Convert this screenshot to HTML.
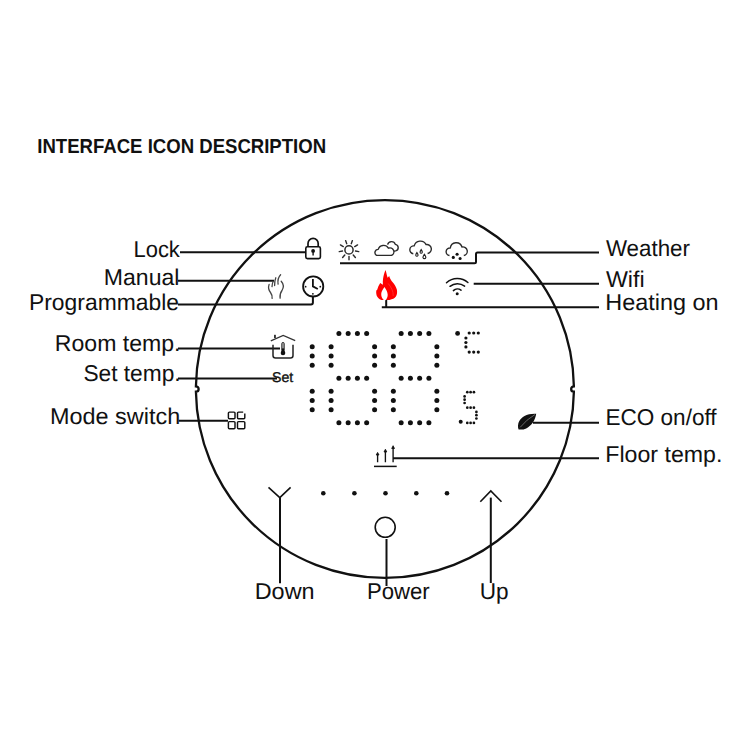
<!DOCTYPE html>
<html><head><meta charset="utf-8"><style>
html,body{margin:0;padding:0;background:#fff;width:750px;height:750px;overflow:hidden}
svg{display:block}
text{font-family:"Liberation Sans",sans-serif;fill:#111;text-rendering:geometricPrecision}
</style></head><body>
<svg width="750" height="750" viewBox="0 0 750 750">
<rect width="750" height="750" fill="#fff"/>
<g id="labels">
<text x="37.3" y="153.4" font-size="20.2" font-weight="bold" textLength="288.8" lengthAdjust="spacingAndGlyphs">INTERFACE ICON DESCRIPTION</text>
<text x="133.5" y="256.5" font-size="22.8" font-weight="normal" textLength="46.3" lengthAdjust="spacingAndGlyphs">Lock</text>
<text x="103.8" y="284.8" font-size="22.8" font-weight="normal" textLength="75.6" lengthAdjust="spacingAndGlyphs">Manual</text>
<text x="29.0" y="310" font-size="22.8" font-weight="normal" textLength="150.0" lengthAdjust="spacingAndGlyphs">Programmable</text>
<text x="54.8" y="351" font-size="22.8" font-weight="normal" textLength="125.7" lengthAdjust="spacingAndGlyphs">Room temp.</text>
<text x="83.4" y="381.3" font-size="22.8" font-weight="normal" textLength="97.2" lengthAdjust="spacingAndGlyphs">Set temp.</text>
<text x="50.0" y="423.8" font-size="22.8" font-weight="normal" textLength="130.2" lengthAdjust="spacingAndGlyphs">Mode switch</text>
<text x="605.9" y="256.1" font-size="22.8" font-weight="normal" textLength="84.1" lengthAdjust="spacingAndGlyphs">Weather</text>
<text x="605.9" y="287" font-size="22.8" font-weight="normal" textLength="38.7" lengthAdjust="spacingAndGlyphs">Wifi</text>
<text x="605.3" y="310.4" font-size="22.8" font-weight="normal" textLength="113.3" lengthAdjust="spacingAndGlyphs">Heating on</text>
<text x="605.4" y="424.6" font-size="22.8" font-weight="normal" textLength="111.2" lengthAdjust="spacingAndGlyphs">ECO on/off</text>
<text x="605.3" y="462.4" font-size="22.8" font-weight="normal" textLength="117.1" lengthAdjust="spacingAndGlyphs">Floor temp.</text>
<text x="254.7" y="598.6" font-size="22.8" font-weight="normal" textLength="59.9" lengthAdjust="spacingAndGlyphs">Down</text>
<text x="366.9" y="598.6" font-size="22.8" font-weight="normal" textLength="62.8" lengthAdjust="spacingAndGlyphs">Power</text>
<text x="479.8" y="598.8" font-size="22.8" font-weight="normal" textLength="28.9" lengthAdjust="spacingAndGlyphs">Up</text>
</g>
<g id="circle" fill="none" stroke="#111" stroke-width="2.3">
<path d="M 195.92 386.3 A 189 189 0 0 1 573.88 386.3 A 2.7 2.7 0 0 0 573.88 391.7 A 189 189 0 0 1 195.92 391.7 A 2.7 2.7 0 0 0 195.92 386.3 Z"/>
</g>
<g id="lines" fill="none" stroke="#111" stroke-width="2">
<path d="M180 252.3 H305"/>
<path d="M178 280.8 H274"/>
<path d="M178 304.6 H311 Q312.9 304.6 312.9 302.6 V297"/>
<path d="M178 348.5 H280"/>
<path d="M178 378.5 H277"/>
<path d="M178.7 420.8 H228"/>
<path d="M340 263.3 H474.5 Q476 263.3 476 261.8 V254.1 Q476 252.6 477.5 252.6 H599"/>
<path d="M473.7 283.8 H599"/>
<path d="M381.8 307.3 H599 M386.2 300 V307.3"/>
<path d="M533 422.7 H599"/>
<path d="M393 458.2 H599"/>
<path d="M280 497.6 V583.3"/>
<path d="M386.5 539 V586"/>
<path d="M490.8 497.6 V583"/>
</g>
<g id="dots" fill="#111">
<circle cx="312.20" cy="346.80" r="2.5"/>
<circle cx="312.20" cy="356.00" r="2.5"/>
<circle cx="312.20" cy="365.20" r="2.5"/>
<circle cx="312.20" cy="391.30" r="2.5"/>
<circle cx="312.20" cy="400.50" r="2.5"/>
<circle cx="312.20" cy="409.80" r="2.5"/>
<circle cx="331.10" cy="346.80" r="2.5"/>
<circle cx="374.60" cy="346.80" r="2.5"/>
<circle cx="331.10" cy="356.00" r="2.5"/>
<circle cx="374.60" cy="356.00" r="2.5"/>
<circle cx="331.10" cy="365.20" r="2.5"/>
<circle cx="374.60" cy="365.20" r="2.5"/>
<circle cx="331.10" cy="391.30" r="2.5"/>
<circle cx="374.60" cy="391.30" r="2.5"/>
<circle cx="331.10" cy="400.50" r="2.5"/>
<circle cx="374.60" cy="400.50" r="2.5"/>
<circle cx="331.10" cy="409.80" r="2.5"/>
<circle cx="374.60" cy="409.80" r="2.5"/>
<circle cx="338.90" cy="333.50" r="2.5"/>
<circle cx="348.15" cy="333.50" r="2.5"/>
<circle cx="357.40" cy="333.50" r="2.5"/>
<circle cx="366.65" cy="333.50" r="2.5"/>
<circle cx="338.90" cy="378.20" r="2.5"/>
<circle cx="348.15" cy="378.20" r="2.5"/>
<circle cx="357.40" cy="378.20" r="2.5"/>
<circle cx="366.65" cy="378.20" r="2.5"/>
<circle cx="338.90" cy="422.80" r="2.5"/>
<circle cx="348.15" cy="422.80" r="2.5"/>
<circle cx="357.40" cy="422.80" r="2.5"/>
<circle cx="366.65" cy="422.80" r="2.5"/>
<circle cx="393.35" cy="346.80" r="2.5"/>
<circle cx="436.85" cy="346.80" r="2.5"/>
<circle cx="393.35" cy="356.00" r="2.5"/>
<circle cx="436.85" cy="356.00" r="2.5"/>
<circle cx="393.35" cy="365.20" r="2.5"/>
<circle cx="436.85" cy="365.20" r="2.5"/>
<circle cx="393.35" cy="391.30" r="2.5"/>
<circle cx="436.85" cy="391.30" r="2.5"/>
<circle cx="393.35" cy="400.50" r="2.5"/>
<circle cx="436.85" cy="400.50" r="2.5"/>
<circle cx="393.35" cy="409.80" r="2.5"/>
<circle cx="436.85" cy="409.80" r="2.5"/>
<circle cx="401.15" cy="333.50" r="2.5"/>
<circle cx="410.40" cy="333.50" r="2.5"/>
<circle cx="419.65" cy="333.50" r="2.5"/>
<circle cx="428.90" cy="333.50" r="2.5"/>
<circle cx="401.15" cy="378.20" r="2.5"/>
<circle cx="410.40" cy="378.20" r="2.5"/>
<circle cx="419.65" cy="378.20" r="2.5"/>
<circle cx="428.90" cy="378.20" r="2.5"/>
<circle cx="401.15" cy="422.80" r="2.5"/>
<circle cx="410.40" cy="422.80" r="2.5"/>
<circle cx="419.65" cy="422.80" r="2.5"/>
<circle cx="428.90" cy="422.80" r="2.5"/>
<circle cx="457.60" cy="333.40" r="2.4"/>
<circle cx="469.20" cy="333.00" r="1.6"/>
<circle cx="469.20" cy="352.10" r="1.6"/>
<circle cx="473.70" cy="333.00" r="1.6"/>
<circle cx="473.70" cy="352.10" r="1.6"/>
<circle cx="478.30" cy="333.00" r="1.6"/>
<circle cx="478.30" cy="352.10" r="1.6"/>
<circle cx="465.90" cy="338.00" r="1.6"/>
<circle cx="465.90" cy="342.50" r="1.6"/>
<circle cx="465.90" cy="346.90" r="1.6"/>
<circle cx="467.30" cy="392.20" r="1.35"/>
<circle cx="467.30" cy="407.70" r="1.35"/>
<circle cx="467.30" cy="422.90" r="1.35"/>
<circle cx="470.60" cy="392.20" r="1.35"/>
<circle cx="470.60" cy="407.70" r="1.35"/>
<circle cx="470.60" cy="422.90" r="1.35"/>
<circle cx="473.90" cy="392.20" r="1.35"/>
<circle cx="473.90" cy="407.70" r="1.35"/>
<circle cx="473.90" cy="422.90" r="1.35"/>
<circle cx="464.60" cy="396.40" r="1.35"/>
<circle cx="464.60" cy="399.70" r="1.35"/>
<circle cx="464.60" cy="403.00" r="1.35"/>
<circle cx="476.40" cy="411.90" r="1.35"/>
<circle cx="476.40" cy="415.20" r="1.35"/>
<circle cx="476.40" cy="418.50" r="1.35"/>
<circle cx="460.70" cy="421.70" r="2.0"/>
<circle cx="323.30" cy="493.30" r="2.3"/>
<circle cx="354.40" cy="493.30" r="2.3"/>
<circle cx="385.50" cy="493.30" r="2.3"/>
<circle cx="416.30" cy="493.30" r="2.3"/>
<circle cx="447.00" cy="493.30" r="2.3"/>
</g>
<g id="icons" fill="none" stroke="#111" stroke-width="1.5">
<!-- lock -->
<rect x="305.8" y="246.8" width="14.6" height="11.8" rx="1.6" stroke-width="1.6"/>
<path d="M308 246.8 V243.4 A5.1 5.1 0 0 1 318.2 243.4 V246.8" stroke-width="1.7"/>
<circle cx="313.1" cy="250.9" r="1.9" fill="#111" stroke="none"/>
<path d="M313.1 251 V255.5" stroke-width="1.4"/>
<!-- sun -->
<g stroke="#2a2a2a">
<circle cx="349" cy="249.9" r="4.1" stroke-width="1.5"/>
<g stroke-width="1.4" stroke-linecap="round">
<path d="M351.26 243.70 L352.39 240.60"/>
<path d="M354.72 246.60 L357.57 244.95"/>
<path d="M355.50 251.05 L358.75 251.62"/>
<path d="M353.24 254.96 L355.36 257.48"/>
<path d="M349.00 256.50 L349.00 259.80"/>
<path d="M344.76 254.96 L342.64 257.48"/>
<path d="M342.50 251.05 L339.25 251.62"/>
<path d="M343.28 246.60 L340.43 244.95"/>
<path d="M346.74 243.70 L345.61 240.60"/>
</g>
</g>
<!-- cloud partly -->
<g stroke="#2a2a2a" stroke-width="1.4" stroke-linejoin="round">
<path d="M387.6 244.6 A4 4 0 0 1 395.3 244.4 A3.3 3.3 0 0 1 395.6 250.9 L393.4 251.2"/>
<path d="M376.6 255.4 A3.2 3.2 0 0 1 378.2 249.4 A5.6 5.6 0 0 1 388.4 248.2 A3.7 3.7 0 0 1 391.5 255.4 Z" fill="#fff"/>
<!-- rain cloud -->
<path d="M413.3 253.7 A3.9 3.9 0 0 1 414.2 245.9 A6.4 6.4 0 0 1 426.1 244.6 A4.5 4.5 0 0 1 427.6 253.5"/>
<!-- snow cloud -->
<path d="M449.5 255.5 A3.7 3.7 0 0 1 450.3 248 A6 6 0 0 1 462 247 A4.3 4.3 0 0 1 463.8 255.5"/>
</g>
<g fill="none" stroke="#222" stroke-width="1.15">
<path d="M416.9 252.6 Q415.6 254.5 415.8 255.4 A1.15 1.15 0 0 0 418 255.4 Q418.2 254.5 416.9 252.6 Z"/>
<path d="M421.2 249.6 Q419.9 251.5 420.1 252.4 A1.15 1.15 0 0 0 422.3 252.4 Q422.5 251.5 421.2 249.6 Z"/>
<path d="M424.4 254.3 Q422.8 256.5 423 257.6 A1.45 1.45 0 0 0 425.8 257.6 Q426 256.5 424.4 254.3 Z"/>
</g>
<g fill="#111" stroke="none">
<circle cx="457.1" cy="254.2" r="1.55"/>
<circle cx="453.3" cy="257.4" r="1.55"/>
<circle cx="460.1" cy="258.5" r="1.55"/>
</g>
<!-- hand -->
<g stroke="#444" stroke-width="1.3" stroke-linecap="round">
<path d="M269.1 284.4 Q267.6 289 270.5 292.5 Q272.4 295 272.1 298.4"/>
<path d="M281.2 281.3 Q285 285.5 282 290.5 Q279.6 293.5 280.1 298.2"/>
<path d="M272 286.6 Q272.2 283 273.2 281.5"/>
<path d="M274.6 285.6 Q274.6 280.5 275.8 277.8"/>
<path d="M278.1 284.2 Q277.2 278.5 280.6 274.8"/>
</g>
<!-- clock -->
<circle cx="313.2" cy="286.4" r="10.1" stroke-width="1.8"/>
<path d="M312.9 279.1 V286.4 L317.8 289" stroke-width="1.8"/>
<circle cx="305.6" cy="286.7" r="0.9" fill="#111" stroke="none"/>
<circle cx="320.3" cy="286.7" r="0.9" fill="#111" stroke="none"/>
<circle cx="312.9" cy="293.8" r="0.9" fill="#111" stroke="none"/>
<!-- wifi -->
<g stroke-width="1.5" stroke-linecap="round">
<path d="M446.5 282.7 A16 16 0 0 1 467.9 282.5"/>
<path d="M450 286.3 A12 12 0 0 1 464.6 286.1"/>
<path d="M453.4 290.6 A5.8 5.8 0 0 1 461 290.2"/>
</g>
<circle cx="457.2" cy="293.7" r="1.5" fill="#111" stroke="none"/>
<!-- power -->
<circle cx="385.2" cy="527.3" r="10" stroke-width="1.6"/>
<!-- arrows -->
<path d="M268.5 487.3 L279.8 497.6 L290.6 487.3" stroke-width="1.6"/>
<path d="M480.3 501.7 L490.8 491 L501.5 501.7" stroke-width="1.6"/>
<!-- mode switch -->
<g stroke-width="1.45">
<rect x="228.4" y="412.1" width="6.6" height="6.6" rx="1"/>
<path d="M243.2 412.1 H238.5 Q237.5 412.1 237.5 413.1 V417.7 Q237.5 418.7 238.5 418.7 H243.8 Q244.8 418.7 244.8 417.7 V413.6"/>
<rect x="228.4" y="421.6" width="6.6" height="7.1" rx="1"/>
<rect x="237.5" y="421.6" width="7.3" height="7.1" rx="1"/>
</g>
<!-- floor temp -->
<g stroke-width="1.35">
<path d="M377.6 462.2 V454 M385.4 462.2 V451 M393.1 462.2 V447.5"/>
<path d="M374 466.4 H396.7" stroke-width="1.5"/>
</g>
<g fill="#111" stroke="#111" stroke-width="0.8" stroke-linejoin="round">
<path d="M376.2 455 L377.6 452.4 L379 455 Z"/>
<path d="M384 452 L385.4 449.2 L386.8 452 Z"/>
<path d="M391.7 448.5 L393.1 445.7 L394.5 448.5 Z"/>
</g>
<!-- house -->
<path d="M270.8 340.9 L283.2 335.4 L295.2 340.7" stroke-width="1.3" stroke="#333"/>
<rect x="274" y="334.8" width="1.9" height="3.2" fill="#333" stroke="none"/>
<path d="M273 344.7 V355.6 Q273 358.1 275.5 358.1 H290.5 Q293 358.1 293 355.6 V344.7" stroke-width="1.5" stroke="#222"/>
<rect x="281.7" y="342.4" width="2.6" height="9" rx="1.3" fill="#999" stroke="#222" stroke-width="0.8"/>
<rect x="281.9" y="348.4" width="2.2" height="3" fill="#111" stroke="none"/>
<circle cx="283" cy="352.9" r="2.3" fill="#111" stroke="none"/>
</g>
<!-- leaf -->
<path d="M518.6 429.4 C517.6 427.5 517.8 423.5 519.3 421 C520.5 418.8 522.3 417.2 524.5 415.9 C527.5 414.2 531.5 413.5 536.2 413.7 C535.8 416.5 534.6 420 532.9 422.6 C531.2 425 529 427 526.2 428.4 C523.8 429.5 521 429.9 518.6 429.4 Z" fill="#111"/>
<path d="M520.2 427.3 Q526.5 419.5 535 414.5" stroke="#aaa" stroke-width="0.55" fill="none"/>
<!-- flame -->
<path d="M385.6 270 C386 271.5 386.6 274 387.6 277.7 L389.2 275.9 C389.8 278 391 280.5 392.9 282.5 C394.5 284.5 396.2 287 396.9 289.8 C397.3 292 397.2 294.6 395.9 296.6 C394.7 298.3 392.5 299.5 389.5 299.9 L381.5 299.9 C379.6 299.4 378.2 298.4 377.3 296.8 C376.3 295 376 292.5 376.3 290.4 L377.2 289.8 C377.8 287.3 378.8 285 380.2 283 L382.9 284.8 C382.7 282.5 382.8 280.5 383.1 278.6 C383.5 275.8 384.3 272.5 385.6 270 Z" fill="#f00"/>
<path d="M384.5 287 C383.2 288.8 381.3 291.3 381.2 294 C381.1 296.8 382.5 299.2 384.2 300.3 L385.4 300.3 C386.8 299 387.8 297 387.7 294.8 C387.6 292 386.2 289.6 384.5 287 Z" fill="#fff"/>
<path d="M388.2 283.5 C391 287 393.5 291 393.2 296" stroke="#ff5555" stroke-width="0.5" fill="none"/>
<!-- set text -->
<text x="272.0" y="382.2" font-size="14.2" textLength="21.2" lengthAdjust="spacingAndGlyphs" stroke="#111" stroke-width="0.35">Set</text>
</svg>
</body></html>
